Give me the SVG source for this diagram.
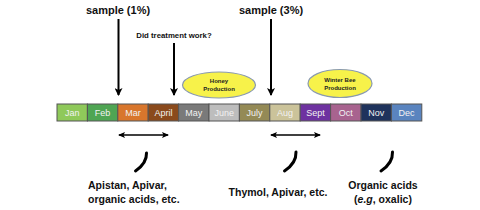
<svg xmlns="http://www.w3.org/2000/svg" width="480" height="210" viewBox="0 0 480 210">
<style>
.t{font-family:"Liberation Sans",Arial,sans-serif;font-weight:bold;fill:#111}
.m{font-family:"Liberation Sans",Arial,sans-serif;font-size:9px;fill:#f2f2f2;text-anchor:middle}
.cell{stroke:#555;stroke-width:1}
.ar{stroke:#000;stroke-width:2;fill:none}
.da{stroke:#000;stroke-width:1.3;fill:none}
.sw{stroke:#000;stroke-width:3;fill:none;stroke-linecap:round}
.ell{fill:#f7f24a;stroke:#8a9ab0;stroke-width:1.2}
.el{font-family:"Liberation Sans",Arial,sans-serif;font-weight:bold;font-size:6px;fill:#222;text-anchor:middle}
</style>
<defs>
<marker id="ah" markerWidth="8" markerHeight="8" refX="7" refY="4" orient="auto" markerUnits="userSpaceOnUse"><path d="M0,0 L8,4 L0,8 L2,4 Z" fill="#000"/></marker>
<marker id="hs" markerWidth="7" markerHeight="6" refX="6" refY="3" orient="auto-start-reverse" markerUnits="userSpaceOnUse"><path d="M0,0 L7,3 L0,6 L1.5,3 Z" fill="#000"/></marker>
</defs>
<rect width="480" height="210" fill="#fff"/>
<g id="labels-top">
<text class="t" x="118" y="14" font-size="11" text-anchor="middle">sample (1%)</text>
<text class="t" x="174" y="38" font-size="7.8" text-anchor="middle">Did treatment work?</text>
<text class="t" x="271" y="14" font-size="11" text-anchor="middle">sample (3%)</text>
</g>
<g id="months">
<rect class="cell" x="57" y="104" width="30.4" height="17" fill="#8fc95a"/>
<rect class="cell" x="87.4" y="104" width="30.4" height="17" fill="#4fa553"/>
<rect class="cell" x="117.8" y="104" width="30.4" height="17" fill="#d8762c"/>
<rect class="cell" x="148.2" y="104" width="30.4" height="17" fill="#8a4a1c"/>
<rect class="cell" x="178.6" y="104" width="30.4" height="17" fill="#7a7a7a"/>
<rect class="cell" x="209" y="104" width="30.4" height="17" fill="#bdbdbd"/>
<rect class="cell" x="239.4" y="104" width="30.4" height="17" fill="#948a56"/>
<rect class="cell" x="269.8" y="104" width="30.4" height="17" fill="#cbc39a"/>
<rect class="cell" x="300.2" y="104" width="30.4" height="17" fill="#6e32a0"/>
<rect class="cell" x="330.6" y="104" width="30.4" height="17" fill="#a8638f"/>
<rect class="cell" x="361" y="104" width="30.4" height="17" fill="#1f335c"/>
<rect class="cell" x="391.4" y="104" width="30.4" height="17" fill="#5a84bf"/>
<text class="m" x="72.2" y="115.5">Jan</text>
<text class="m" x="102.6" y="115.5">Feb</text>
<text class="m" x="133" y="115.5">Mar</text>
<text class="m" x="163.4" y="115.5">April</text>
<text class="m" x="193.8" y="115.5">May</text>
<text class="m" x="224.2" y="115.5">June</text>
<text class="m" x="254.6" y="115.5">July</text>
<text class="m" x="285" y="115.5">Aug</text>
<text class="m" x="315.4" y="115.5">Sept</text>
<text class="m" x="345.8" y="115.5">Oct</text>
<text class="m" x="376.2" y="115.5">Nov</text>
<text class="m" x="406.6" y="115.5">Dec</text>
</g>
<g id="honey">
<ellipse class="ell" cx="219" cy="85" rx="36.5" ry="13"/>
<text class="el" x="219" y="83">Honey</text>
<text class="el" x="219" y="91">Production</text>
</g>
<g id="winterbee">
<ellipse class="ell" cx="340" cy="83.5" rx="32" ry="14"/>
<text class="el" x="340" y="81.5">Winter Bee</text>
<text class="el" x="340" y="89.5">Production</text>
</g>
<g id="connectors">
<line class="ar" x1="118.5" y1="19" x2="118.5" y2="95" marker-end="url(#ah)"/>
<line class="ar" x1="174" y1="43" x2="174" y2="95" marker-end="url(#ah)"/>
<line class="ar" x1="271" y1="19" x2="271" y2="95" marker-end="url(#ah)"/>
<line class="da" x1="119" y1="135" x2="168" y2="135" marker-start="url(#hs)" marker-end="url(#hs)"/>
<line class="da" x1="271" y1="135" x2="320" y2="135" marker-start="url(#hs)" marker-end="url(#hs)"/>
<path class="sw" d="M146.5,153 Q147,163 135.5,171"/>
<path class="sw" d="M296,152 Q296.5,163 284.5,171"/>
<path class="sw" d="M392.5,152 Q393,163 381,171"/>
</g>
<g id="labels-bottom">
<text class="t" x="88" y="189" font-size="10.5">Apistan, Apivar,</text>
<text class="t" x="88" y="203" font-size="10.5">organic acids, etc.</text>
<text class="t" x="278" y="196" font-size="10.5" text-anchor="middle">Thymol, Apivar, etc.</text>
<text class="t" x="383" y="189" font-size="10.5" text-anchor="middle">Organic acids</text>
<text class="t" x="383" y="203" font-size="10.5" text-anchor="middle">(<tspan font-style="italic">e.g</tspan>, oxalic)</text>
</g>
</svg>
